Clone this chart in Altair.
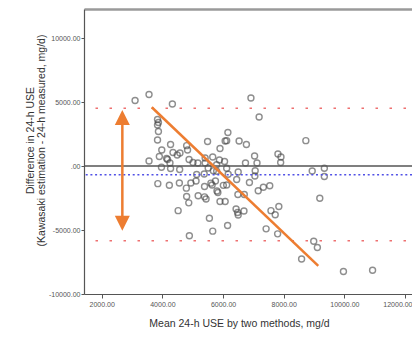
import altair as alt
import pandas as pd

# Bland-Altman data
mean_use = [3100, 3560, 4330, 6920, 7190, 3840, 3870, 3840, 3870, 3840,
            4270, 6160, 6070, 6120, 6530, 6770, 5490, 5900, 4800, 8730,
            3980, 7810, 7910, 7900, 7040, 7120, 6740, 4830, 4580, 4350,
            3900, 4140, 4170, 4490, 4880, 5410, 5660, 5880, 6050, 3560,
            4250, 5010, 5170, 5410, 5790, 3970, 4270, 4570, 5510, 5680,
            6120, 5130, 5380, 5790, 6500, 7060, 7050, 8940, 9340, 9340,
            6170, 6450, 3850, 4230, 4560, 4940, 5110, 4790, 5390, 5600,
            5640, 5750, 6010, 6120, 6870, 7160, 7330, 7540, 5800, 5830,
            4800, 4870, 5180, 5390, 5440, 5900, 6070, 6490, 6700, 9190,
            6430, 6480, 6500, 6690, 4520, 7580, 7840, 7720, 5550, 6150,
            5660, 7420, 7800, 4890, 8990, 9110, 8590, 9970, 10930]
diff_use = [5120, 5590, 4840, 5310, 3830, 3630, 3400, 3200, 2700, 2030,
            1680, 2620, 1950, 1980, 1950, 1680, 1910, 1370, 1590, 1980,
            1250, 940, 700, 270, 780, 230, 230, 1250, 1020, 1050,
            740, 590, 510, 860, 510, 630, 700, 470, 350, 390,
            230, 270, 230, 230, 100, -100, -200, -270, -160, -370,
            -180, -660, -630, -410, -470, -370, -780, -390, -170, -820,
            -650, -1050, -1380, -1500, -1330, -1330, -1170, -1730, -1600, -1340,
            -1480, -1170, -1510, -1480, -1290, -1930, -1660, -1540, -1950, -2070,
            -2380, -2880, -2320, -2410, -2580, -2770, -2770, -2230, -2230, -2520,
            -3360, -3630, -3830, -3520, -3490, -3490, -3160, -3810, -4080, -4650,
            -5090, -4910, -5300, -5450, -5880, -6370, -7270, -8240, -8140]

x_ticks = [2000, 4000, 6000, 8000, 10000, 12000]
y_ticks = [-10000, -5000, 0, 5000, 10000]
x_domain = [1416, 12230]
y_domain = [-10000, 12266]

zero_line = [0]
bias_line = [-680]
loa_lines = [4510, -5840]
frame_top = [y_domain[1]]

trend_mean = [3650, 9140]
trend_diff = [4590, -7810]

arrow_mean = [2680]
arrow_tip_top = [4375]
arrow_tip_bottom = [-5055]
arrow_shaft_top = [3750]
arrow_shaft_bottom = [-4430]

W, H = 328, 285
FONT = "Liberation Sans, Arial, sans-serif"
ORANGE = "#ED7D31"

label_expr = ("datum.value < 0 ? '-' + format(-datum.value, '.2f') : "
              "(datum.value == 0 ? '.00' : format(datum.value, '.2f'))")

xs = alt.Scale(domain=x_domain, nice=False, zero=False)
ys = alt.Scale(domain=y_domain, nice=False, zero=False)

x_axis = alt.Axis(values=x_ticks, labelExpr=label_expr, grid=False,
                  title="Mean 24-h USE by two methods, mg/d",
                  domainColor="#555", domainWidth=1.2, tickColor="#555",
                  tickSize=4, tickWidth=1, labelFontSize=7, labelColor="#555",
                  labelPadding=2, labelFont=FONT, titleFont=FONT,
                  labelAlign=alt.expr("datum.value >= 12000 ? 'right' : 'center'"),
                  labelOffset=alt.expr("datum.value >= 12000 ? 7 : 0"),
                  labelBound=False, labelOverlap=False,
                  titleFontSize=10.5, titleFontWeight="normal", titleColor="#333",
                  titleX=155, titleY=29, titleBaseline="middle", titleAlign="center")
x_top_axis = alt.Axis(orient="top", labels=False, ticks=False, grid=False, title="",
                      domainColor="#9a9a9a", domainWidth=2.5)
y_axis = alt.Axis(values=y_ticks, labelExpr=label_expr, grid=False,
                  title=["Difference in 24-h USE",
                         "(Kawasaki estimation - 24-h measured, mg/d)"],
                  domainColor="#555", domainWidth=1.2, tickColor="#555",
                  tickSize=3, tickWidth=1, labelFontSize=7, labelColor="#555",
                  labelPadding=1, labelFont=FONT, titleFont=FONT,
                  titleFontSize=10.5, titleFontWeight="normal", titleColor="#333",
                  titleX=-54, titleY=131, titleBaseline="middle", titleAlign="center",
                  titleAngle=270, titleLineHeight=11)


def X(field="mean:Q", axis=x_axis):
    return alt.X(field, scale=xs, axis=axis)


def Y(field="diff:Q"):
    return alt.Y(field, scale=ys, axis=y_axis)


pts_df = pd.DataFrame({"mean": mean_use, "diff": diff_use})

points = alt.Chart(pts_df).mark_point(
    shape="circle", filled=False, size=36, color="#444", strokeWidth=1.4, opacity=0.6
).encode(x=X(), y=Y())

zero = alt.Chart(pd.DataFrame({"diff": zero_line})).mark_rule(
    color="#555", strokeWidth=1.3
).encode(y=Y())

bias = alt.Chart(pd.DataFrame({"diff": bias_line})).mark_rule(
    color="#5050e6", strokeWidth=1.5, strokeDash=[2, 2.7]
).encode(y=Y())

loa = alt.Chart(pd.DataFrame({"diff": loa_lines})).mark_rule(
    color="#ee7070", strokeWidth=1.5, strokeDash=[2.5, 11.5], strokeDashOffset=-6
).encode(y=Y())

top_border = alt.Chart(pd.DataFrame({"mean": trend_mean, "diff": frame_top * 2})).mark_line(
    color="#9a9a9a", strokeWidth=2.5, opacity=0
).encode(x=X(axis=x_top_axis), y=Y())

trend = alt.Chart(pd.DataFrame({"mean": trend_mean, "diff": trend_diff})).mark_line(
    color=ORANGE, strokeWidth=2.5
).encode(x=X(), y=Y())

shaft = alt.Chart(pd.DataFrame({"mean": arrow_mean, "diff": arrow_shaft_top,
                                "diff2": arrow_shaft_bottom})).mark_rule(
    color=ORANGE, strokeWidth=2.5
).encode(x=X(), y=Y(), y2="diff2:Q")

head_up = alt.Chart(pd.DataFrame({"mean": arrow_mean, "diff": arrow_tip_top})).mark_point(
    shape="M0,0L-1,2L1,2Z", filled=True, size=225, color=ORANGE, opacity=1
).encode(x=X(), y=Y())

head_down = alt.Chart(pd.DataFrame({"mean": arrow_mean, "diff": arrow_tip_bottom})).mark_point(
    shape="M0,0L-1,-2L1,-2Z", filled=True, size=225, color=ORANGE, opacity=1
).encode(x=X(), y=Y())

main = alt.layer(points, loa, zero, bias, trend, shaft, head_up, head_down)

chart = alt.layer(main, top_border).resolve_axis(x="independent").properties(
    width=W, height=H,
    autosize=alt.AutoSizeParams(type="none"),
    padding={"left": 76, "top": 1, "right": 0, "bottom": 37},
    background="white",
).configure_view(stroke=None)

chart.save("out.html", embed_options={"renderer": "svg", "actions": False})
